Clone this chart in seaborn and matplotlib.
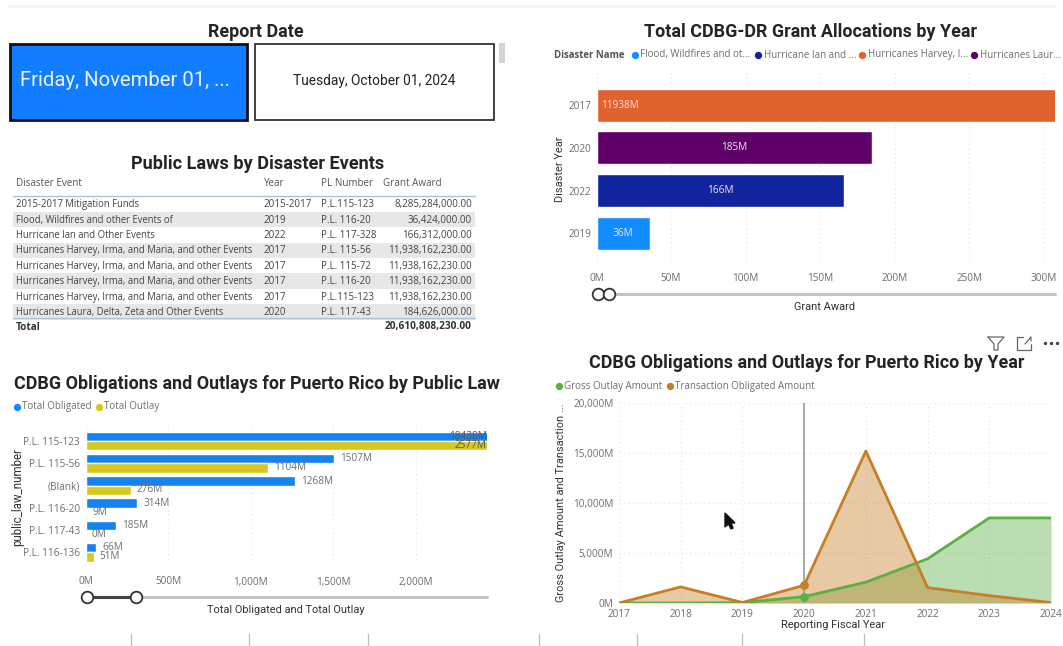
import matplotlib
matplotlib.use('Agg')
import matplotlib.pyplot as plt
import matplotlib.ticker as mtick
from matplotlib.patches import Rectangle
import seaborn as sns
import pandas as pd

# dados
anos_grant = ['2017', '2020', '2022', '2019']
nomes_grant = ['Hurricanes Harvey', 'Hurricanes Laura', 'Hurricane Ian', 'Flood']
valores_grant = [11938, 185, 166, 36]

leis = ['P.L. 115-123', 'P.L. 115-56', '(Blank)', 'P.L. 116-20', 'P.L. 117-43', 'P.L. 116-136']
total_obligated = [18438, 1507, 1268, 314, 185, 66]
total_outlay = [2577, 1104, 276, 9, 0, 51]

anos_fiscais = [2017, 2018, 2019, 2020, 2021, 2022, 2023, 2024]
gross_outlay = [0, 0, 30, 640, 2080, 4420, 8510, 8510]
obligated_ano = [0, 1610, 50, 1775, 15200, 1540, 740, 40]

colunas = ['Disaster Event', 'Year', 'PL Number', 'Grant Award']
eventos = ['2015-2017 Mitigation Funds', 'Flood, Wildfires and other Events of', 'Hurricane Ian and Other Events',
           'Hurricanes Harvey, Irma, and Maria, and other Events', 'Hurricanes Harvey, Irma, and Maria, and other Events',
           'Hurricanes Harvey, Irma, and Maria, and other Events', 'Hurricanes Harvey, Irma, and Maria, and other Events',
           'Hurricanes Laura, Delta, Zeta and Other Events']
anos_tabela = ['2015-2017', '2019', '2022', '2017', '2017', '2017', '2017', '2020']
pl_numeros = ['P.L.115-123', 'P.L. 116-20', 'P.L. 117-328', 'P.L. 115-56', 'P.L. 115-72', 'P.L. 116-20', 'P.L.115-123', 'P.L. 117-43']
awards = ['8,285,284,000.00', '36,424,000.00', '166,312,000.00', '11,938,162,230.00', '11,938,162,230.00',
          '11,938,162,230.00', '11,938,162,230.00', '184,626,000.00']
total_award = '20,610,808,230.00'

# cores
laranja = '#E2622F'
roxo = '#5F0069'
marinho = '#12239E'
azul = '#118DFF'
azul_barra = '#1582F0'
amarelo = '#D6C81F'
verde = '#5BAF45'
ocre = '#C67F26'
titulo_cor = '#252423'
texto_cinza = '#6E6E6E'
grade = '#E4E4E4'

sns.set_theme(style='white')
plt.rcParams['font.family'] = ['Open Sans', 'DejaVu Sans']

L, A = 1063, 646
fig = plt.figure(figsize=(L / 100, A / 100), dpi=100)


def eixo_px(x0, y0, x1, y1):
    # caixa em pixels da imagem, origem no topo
    return fig.add_axes([x0 / L, 1 - y1 / A, (x1 - x0) / L, (y1 - y0) / A])


def estilo(ax, eixo_grade, pad_x=4):
    sns.despine(ax=ax, left=True, bottom=True)
    ax.grid(True, axis=eixo_grade, linestyle=(0, (1, 3)), color=grade, linewidth=0.8)
    ax.set_axisbelow(True)
    ax.tick_params(length=0, labelsize=7.2, labelcolor=texto_cinza, pad=4)
    ax.tick_params(axis='x', pad=pad_x)
    ax.set_xlabel('')
    ax.set_ylabel('')


fmt_m = mtick.FuncFormatter(lambda v, p: f'{v:,.0f}M')

# grafico 1 - grant por ano
ax1 = eixo_px(596.5, 71, 1055, 265)
df_grant = pd.DataFrame({'ano': anos_grant, 'nome': nomes_grant, 'valor': valores_grant})
sns.barplot(data=df_grant, y='ano', x='valor', hue='nome', palette=[laranja, roxo, marinho, azul],
            dodge=False, legend=False, width=0.77, saturation=1, ax=ax1)
ax1.set_xlim(0, 307.5)
ax1.set_ylim(3.74, -0.8)
ax1.set_xticks([0, 50, 100, 150, 200, 250, 300])
ax1.xaxis.set_major_formatter(fmt_m)
estilo(ax1, 'x', pad_x=6)
for i, v in enumerate(valores_grant):
    if v > 307:
        ax1.text(16, i, f'{v}M', color='#F3E3DA', fontsize=7.2, ha='center', va='center')
    else:
        ax1.text(v / 2, i, f'{v}M', color='#E8E8F0', fontsize=7.2, ha='center', va='center')

# grafico 2 - obrigacoes por lei
ax2 = eixo_px(85.5, 424, 487, 564)
df_leis = pd.DataFrame({'lei': leis, 'Total Obligated': total_obligated, 'Total Outlay': total_outlay})
df_leis = df_leis.melt(id_vars='lei', var_name='serie', value_name='valor')
sns.barplot(data=df_leis, y='lei', x='valor', hue='serie', palette=[azul_barra, amarelo],
            legend=False, width=0.84, saturation=1, ax=ax2)
ax2.set_xlim(0, 2430)
ax2.set_ylim(5.52, -0.76)
ax2.set_xticks([0, 500, 1000, 1500, 2000])
ax2.xaxis.set_major_formatter(fmt_m)
estilo(ax2, 'x', pad_x=9)
for serie, desloc, valores in [(0, -0.2, total_obligated), (1, 0.2, total_outlay)]:
    for i, v in enumerate(valores):
        if v > 2430:
            ax2.text(2428, i + desloc, f'{v}M', color='#555555', fontsize=7.2, ha='right', va='center')
        else:
            ax2.text(v + 36, i + desloc, f'{v}M', color=texto_cinza, fontsize=7.2, ha='left', va='center')

# grafico 3 - area por ano
ax3 = eixo_px(619, 403, 1051, 603)
df_ano = pd.DataFrame({'ano': anos_fiscais, 'outlay': gross_outlay, 'oblig': obligated_ano})
ax3.fill_between(anos_fiscais, gross_outlay, color=verde, alpha=0.42, linewidth=0)
ax3.fill_between(anos_fiscais, obligated_ano, color=ocre, alpha=0.42, linewidth=0)
sns.lineplot(data=df_ano, x='ano', y='outlay', color=verde, linewidth=2, ax=ax3)
sns.lineplot(data=df_ano, x='ano', y='oblig', color=ocre, linewidth=2, ax=ax3)
ax3.set_xlim(2017, 2024)
ax3.set_ylim(0, 20000)
ax3.set_xticks(anos_fiscais)
ax3.set_yticks([0, 5000, 10000, 15000, 20000])
ax3.yaxis.set_major_formatter(fmt_m)
estilo(ax3, 'both')
ax3.axvline(2020, color='#9A9A9A', linewidth=1.2)
ax3.scatter([2020], [gross_outlay[3]], color=verde, s=28, zorder=5)
ax3.scatter([2020], [obligated_ano[3]], color=ocre, s=28, zorder=5)

# camada de anotacoes em pixels
ov = fig.add_axes([0, 0, 1, 1], facecolor='none')
ov.set_xlim(0, L)
ov.set_ylim(A, 0)
ov.axis('off')


def titulo(x, y, s, ha='center', size=12.9):
    ov.text(x, y + 1.2, s, ha=ha, va='center', family='Roboto', fontweight='bold', fontsize=size, color=titulo_cor)


def rotulo(x, y, s, rot=0, size=7.95, cor='#333333'):
    ov.text(x, y, s, ha='center', va='center', family='Roboto', fontsize=size, color=cor, rotation=rot)


def legenda(itens, y):
    for x, cor, s in itens:
        ov.scatter([x], [y], color=cor, s=28, linewidths=0)
        ov.text(x + 5.5, y, s, ha='left', va='center', fontsize=7.0, color=texto_cinza)


def slider(x0, x1, y, c0, c1, escuro=False):
    ov.plot([x0, x1], [y, y], color='#C4C4C4', linewidth=2.2, solid_capstyle='round')
    if escuro:
        ov.plot([c0, c1], [y, y], color='#444444', linewidth=2.2)
    for c in (c0, c1):
        ov.scatter([c], [y], s=70, facecolor='white', edgecolor='#333333', linewidths=1.3, zorder=4)


ov.plot([8, 1055], [6, 6], color='#F5F5F5', linewidth=2)

# cartoes de data
ov.add_patch(Rectangle((9.5, 44), 237, 76, facecolor='#127EFF', edgecolor='#111111', linewidth=2))
ov.add_patch(Rectangle((254.5, 44), 239, 76, facecolor='white', edgecolor='#333333', linewidth=1.3))
ov.add_patch(Rectangle((499, 43), 6, 20, facecolor='#D4D4D4', edgecolor='none'))
ov.text(20, 81, 'Friday, November 01, ...', family='Roboto', fontsize=14.6, color='#EAF3FF', ha='left', va='center')
ov.text(374, 81, 'Tuesday, October 01, 2024', family='Roboto', fontsize=9.9, color='#222222', ha='center', va='center')
titulo(256, 31, 'Report Date')

# tabela
titulo(258, 163, 'Public Laws by Disaster Events', size=13.1)
x_cols = [16, 264, 321]
x_dir = 472
passo = 15.4
y_ini = 204
for xc, s in zip(x_cols + [383], colunas):
    ov.text(xc, 183, s, fontsize=7.1, color='#555555', ha='left', va='center')
ov.plot([13, 475], [196, 196], color='#A9C4D6', linewidth=1)
for i in range(len(eventos)):
    y = y_ini + i * passo
    if i % 2 == 1:
        ov.add_patch(Rectangle((13, y - passo / 2), 462, passo, facecolor='#E8E7E7', edgecolor='none'))
    ov.text(x_cols[0], y + 0.7, eventos[i], fontsize=6.87, color='#444444', ha='left', va='center')
    ov.text(x_cols[1], y + 0.7, anos_tabela[i], fontsize=7.1, color='#444444', ha='left', va='center')
    ov.text(x_cols[2], y + 0.7, pl_numeros[i], fontsize=7.0, color='#444444', ha='left', va='center')
    ov.text(x_dir, y + 0.7, awards[i], fontsize=7.1, color='#444444', ha='right', va='center')
ov.plot([13, 475], [318, 318], color='#A9C4D6', linewidth=1)
ov.text(16, 327, 'Total', fontsize=7.2, fontweight='bold', color='#333333', ha='left', va='center')
ov.text(x_dir, 327, total_award, fontsize=7.3, fontweight='bold', color='#333333', ha='right', va='center')

# titulos, legendas, eixos
titulo(811, 31, 'Total CDBG-DR Grant Allocations by Year')
ov.text(554, 55, 'Disaster Name', fontsize=6.9, fontweight='bold', color='#555555', ha='left', va='center')
legenda([(635, azul, 'Flood, Wildfires and ot...'), (758, marinho, 'Hurricane Ian and ...'),
         (862, laranja, 'Hurricanes Harvey, I...'), (974, roxo, 'Hurricanes Laur...')], 55)
rotulo(560, 169, 'Disaster Year', rot=90)
rotulo(825, 307, 'Grant Award')
slider(597, 1055, 294, 598, 609)

titulo(257, 383, 'CDBG Obligations and Outlays for Puerto Rico by Public Law')
legenda([(17, azul, 'Total Obligated'), (99, amarelo, 'Total Outlay')], 407)
rotulo(18, 497, 'public_law_number', rot=90, size=8.3)
rotulo(286, 610, 'Total Obligated and Total Outlay')
slider(87, 487, 596.5, 87, 136, escuro=True)

titulo(807, 362, 'CDBG Obligations and Outlays for Puerto Rico by Year')
legenda([(559, verde, 'Gross Outlay Amount'), (669.5, ocre, 'Transaction Obligated Amount')], 386)
rotulo(560.5, 503, 'Gross Outlay Amount and Transaction ...', rot=90)
rotulo(833, 625, 'Reporting Fiscal Year')

# cursor
ov.fill([725, 725, 728.5, 731, 733, 731, 735], [513, 527, 524, 529, 528, 523, 523], color='#111111')

# icones
ov.plot([988, 1004, 998, 998, 994, 994, 988], [337, 337, 344, 350, 350, 344, 337], color='#666666', linewidth=0.9)
ov.plot([1023, 1017, 1017, 1031, 1031], [337, 337, 350, 350, 344], color='#666666', linewidth=0.9)
ov.plot([1025, 1031, 1031], [344, 337, 341], color='#666666', linewidth=0.9)
ov.scatter([1045, 1051, 1057], [343, 343, 343], color='#444444', s=2)

# marcas no rodape
for x in [131, 249, 368, 539, 637, 742, 864]:
    ov.plot([x, x], [634, 646], color='#BDBDBD', linewidth=0.9)

fig.savefig('out.png', dpi=100)
